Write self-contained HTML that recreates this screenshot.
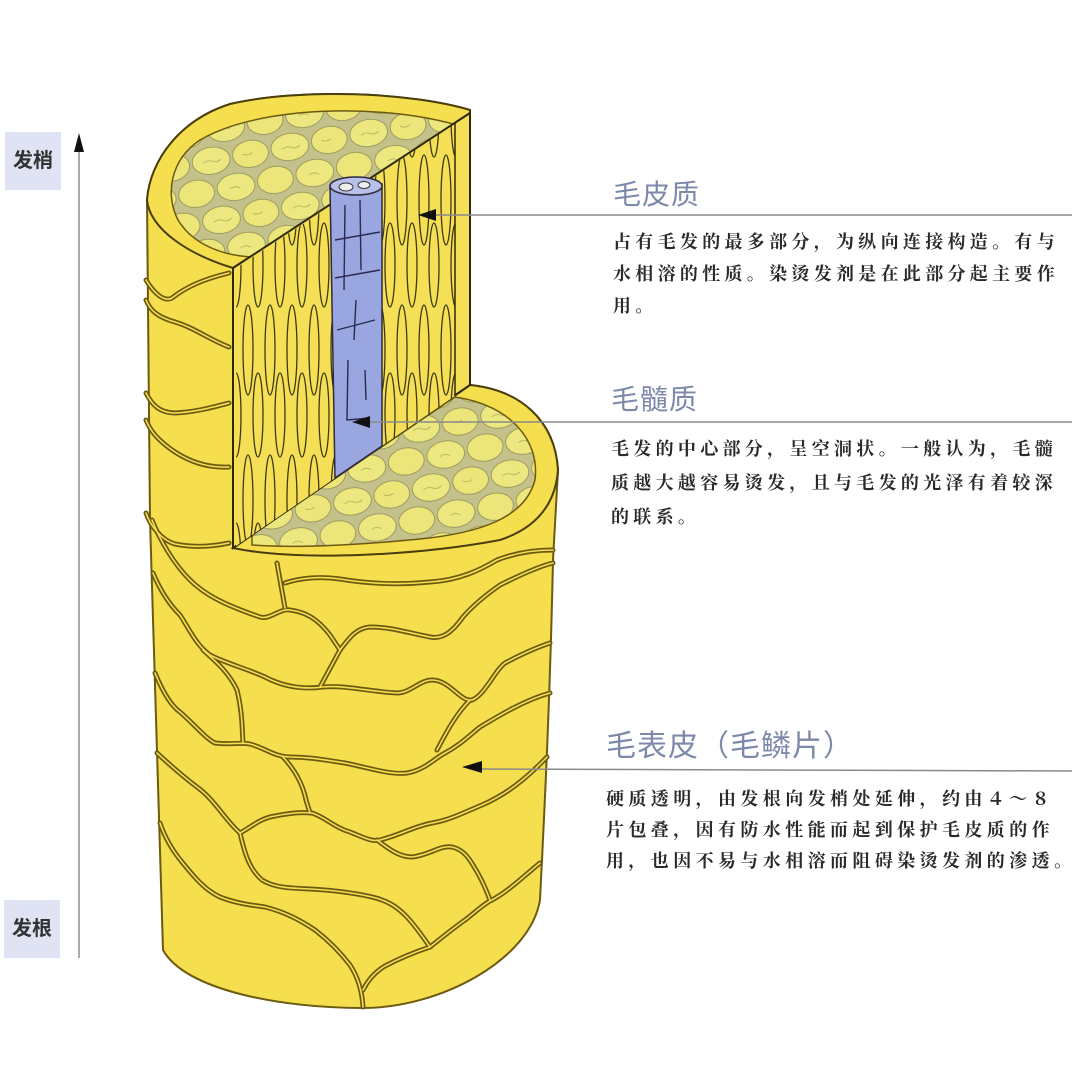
<!DOCTYPE html>
<html><head><meta charset="utf-8"><style>
html,body{margin:0;padding:0;background:#fff;}
body{width:1080px;height:1082px;position:relative;overflow:hidden;font-family:"Liberation Serif","Noto Serif CJK SC",serif;}
.t{position:absolute;color:#7d89aa;font-family:"Liberation Sans","Noto Sans CJK SC",sans-serif;font-size:28px;letter-spacing:1px;white-space:nowrap;}
.p{position:absolute;color:#2a2a2a;font-size:18px;font-weight:bold;letter-spacing:4.3px;line-height:32px;white-space:nowrap;}
.lb{position:absolute;background:#dfe3f3;color:#333;font-family:"Liberation Sans","Noto Sans CJK SC",sans-serif;font-weight:bold;font-size:20px;text-align:center;}
</style></head><body>
<svg width="1080" height="1082" style="position:absolute;left:0;top:0">
<defs>
<pattern id="cells" width="80" height="60" patternUnits="userSpaceOnUse" patternTransform="rotate(-10)">
<rect width="80" height="60" fill="#c4c28a"/>
<ellipse cx="20" cy="15" rx="19" ry="13.5" fill="#ece77e" stroke="#8f8c55" stroke-width="0.8"/>
<ellipse cx="60" cy="15" rx="18" ry="13.5" fill="#ebe57a" stroke="#8f8c55" stroke-width="0.8"/>
<ellipse cx="40" cy="45" rx="19" ry="13.5" fill="#ece77e" stroke="#8f8c55" stroke-width="0.8"/>
<ellipse cx="0" cy="45" rx="18" ry="13.5" fill="#ebe57a" stroke="#8f8c55" stroke-width="0.8"/>
<ellipse cx="80" cy="45" rx="18" ry="13.5" fill="#ebe57a" stroke="#8f8c55" stroke-width="0.8"/>
<path d="M12,16 q5,-3 10,0 q4,2 8,-1 M52,14 q5,3 10,0 M34,46 q5,-3 10,1" stroke="#b0ad60" stroke-width="0.8" fill="none"/>
</pattern>
<pattern id="fib" width="22" height="150" patternUnits="userSpaceOnUse">
<rect width="22" height="150" fill="#f4df56"/>
<ellipse cx="6" cy="50" rx="5" ry="45" fill="none" stroke="#3f3a10" stroke-width="1.3"/>
<ellipse cx="16" cy="115" rx="5" ry="42" fill="none" stroke="#3f3a10" stroke-width="1.3"/>
<ellipse cx="16" cy="-35" rx="5" ry="42" fill="none" stroke="#3f3a10" stroke-width="1.3"/>
</pattern>
<clipPath id="faceclip"><polygon points="236,268 455,124 455,396 236,546"/></clipPath>
</defs>

<line x1="79" y1="150" x2="79" y2="958" stroke="#aaa" stroke-width="2"/>
<polygon points="79,133 74,152 84,152" fill="#111"/>

<path d="M147,200 C150,160 180,120 230,104 C300,88 410,92 470,110 L470,385 C520,390 555,420 558,470 L553,560 C550,700 545,800 540,900 C530,960 440,1008 363,1008 C280,1008 185,990 163,950 L150,520 Z" fill="#f5df4f" stroke="#6b5a10" stroke-width="2"/>

<g id="sc" fill="none" stroke-linejoin="round" stroke-linecap="round">
<path d="M146,280 C155,295 165,302 172,298 C185,288 200,280 229,273"/>
<path d="M146,300 C150,310 157,317 175,322 C195,328 210,340 229,347"/>
<path d="M146,393 C152,405 160,413 175,413 C195,412 210,408 229,403"/>
<path d="M146,420 C150,430 157,440 175,452 C192,463 210,468 229,467"/>
<path d="M146,513 C150,525 161,540 175,544 C195,548 215,546 229,543"/>
<path d="M152,520 C160,540 173,563 190,580 C205,595 225,605 260,617 C270,620 280,608 290,610 C305,612 317,618 330,635 L340,650"/>
<path d="M277,563 L285,608"/>
<path d="M285,583 C300,578 320,576 340,579 C370,584 400,585 430,582 C460,580 480,570 497,560 C515,553 535,550 553,550"/>
<path d="M340,650 C348,640 355,628 370,627 C390,627 405,632 430,637 C445,640 455,628 463,617 C475,603 490,592 500,585 C520,575 540,566 553,563"/>
<path d="M153,573 C160,590 170,605 180,615 C190,630 196,645 210,655 C225,663 245,668 265,677 C280,685 300,690 323,687 C345,685 365,691 397,693 C410,693 420,680 432,680 C450,680 460,702 472,700 C485,695 495,670 505,663 C520,655 535,648 550,643"/>
<path d="M340,650 L320,687"/>
<path d="M203,650 C220,665 230,675 237,690 C242,710 242,725 243,743"/>
<path d="M155,673 C162,690 170,705 180,712 C195,725 205,738 215,743 C230,745 240,742 250,744 C265,748 275,757 290,757 C310,757 325,760 345,763 C370,768 390,775 407,773 C425,770 435,758 445,753 C460,745 470,735 480,727 C500,715 525,700 550,693"/>
<path d="M470,700 C455,715 445,735 437,750"/>
<path d="M157,753 C170,765 185,778 197,787 C215,800 225,820 240,833 C250,828 260,818 275,816 C290,813 300,812 312,813 C325,817 335,828 350,832 C365,838 372,842 380,840 C400,835 415,826 432,823 C450,820 465,812 482,805 C505,795 525,780 547,757"/>
<path d="M283,757 C295,770 303,785 306,800 L310,813"/>
<path d="M240,833 C244,850 248,868 262,880 C275,888 290,888 310,889 C330,890 350,892 372,897 C385,900 395,905 405,915 C415,925 425,940 430,947"/>
<path d="M377,840 C390,850 400,857 412,857 C430,855 440,845 452,847 C465,850 470,860 476,870 C482,880 487,892 490,900"/>
<path d="M160,823 C165,838 172,850 182,862 C195,878 205,890 220,897 C235,903 250,905 265,907 C285,912 300,920 315,930 C328,940 340,952 350,965 C358,977 362,990 363,1007"/>
<path d="M430,947 C445,935 455,927 465,920 C478,910 485,903 492,900 C510,890 525,875 540,863"/>
<path d="M363,990 C368,980 375,972 385,966 C400,958 415,952 430,947"/>
</g>
<use href="#sc" stroke="#6b5a10" stroke-width="5"/>
<use href="#sc" stroke="#f5df4f" stroke-width="1.6"/>

<path d="M233,268 C190,255 150,230 147,200 C150,160 180,120 230,104 C300,88 410,92 470,110 L470,113 Z" fill="#f5df4f" stroke="#4a3f0a" stroke-width="2"/>
<path d="M252,257 L453,124 C380,104 260,105 200,140 C170,160 165,195 178,220 C190,240 215,255 252,257 Z" fill="url(#cells)" stroke="#6b5a10" stroke-width="1.5"/>

<path d="M233,548 L470,385 C520,390 555,420 558,470 C555,510 530,530 500,540 C420,555 300,562 233,548 Z" fill="#f5df4f" stroke="#4a3f0a" stroke-width="2"/>
<path d="M252,535 L455,397 C510,405 540,440 535,480 C525,518 480,533 420,539 C350,546 290,548 252,545 Z" fill="url(#cells)" stroke="#6b5a10" stroke-width="1.5"/>

<polygon points="233,268 470,113 470,385 233,548" fill="#f4df56" stroke="#2e2a08" stroke-width="2"/>
<g clip-path="url(#faceclip)">
<rect x="236" y="100" width="220" height="460" fill="url(#fib)"/>
</g>
<line x1="455" y1="123" x2="455" y2="396" stroke="#2e2a08" stroke-width="1.5"/>
<path d="M330,186 L382,184 L382,446 L335,478 Z" fill="#9aa6e0" stroke="#2e2a40" stroke-width="1.5"/>
<ellipse cx="356" cy="186" rx="26" ry="9" fill="#b8c0ea" stroke="#2e2a40" stroke-width="1.5"/>
<ellipse cx="346" cy="187" rx="7" ry="4" fill="#eee" stroke="#333" stroke-width="1"/>
<ellipse cx="364" cy="185" rx="6" ry="3.5" fill="#eee" stroke="#333" stroke-width="1"/>
<g stroke="#2a2a50" stroke-width="1.4" fill="none">
<path d="M345,205 L344,290 M360,200 L361,270 M335,240 L380,232 M335,278 L380,270 M356,300 L354,340 M337,330 L375,320 M348,360 L347,420 L370,418 M365,370 L366,400"/>
</g>

<line x1="428" y1="215" x2="1072" y2="215" stroke="#8a8a8a" stroke-width="1.5"/>
<polygon points="418,215 436,209 436,221" fill="#111"/>
<line x1="362" y1="422" x2="1072" y2="422" stroke="#8a8a8a" stroke-width="1.5"/>
<polygon points="352,422 370,416 370,428" fill="#111"/>
<line x1="478" y1="769" x2="1072" y2="771" stroke="#8a8a8a" stroke-width="1.5"/>
<polygon points="462,767 482,761 482,773" fill="#111"/>
</svg>

<div class="lb" style="left:5px;top:132px;width:56px;height:58px;line-height:58px;">发梢</div>
<div class="lb" style="left:4px;top:900px;width:56px;height:58px;line-height:58px;">发根</div>

<div class="t" style="left:613px;top:173px;">毛皮质</div>
<div class="p" style="left:613px;top:226px;">占有毛发的最多部分，为纵向连接构造。有与<br>水相溶的性质。染烫发剂是在此部分起主要作<br>用。</div>

<div class="t" style="left:611px;top:378px;">毛髓质</div>
<div class="p" style="left:611px;top:432px;line-height:34px;">毛发的中心部分，呈空洞状。一般认为，毛髓<br>质越大越容易烫发，且与毛发的光泽有着较深<br>的联系。</div>

<div class="t" style="left:606px;top:721px;font-size:30px;">毛表皮（毛鳞片）</div>
<div class="p" style="left:606px;top:784px;line-height:31px;letter-spacing:4.4px;">硬质透明，由发根向发梢处延伸，约由４～８<br>片包叠，因有防水性能而起到保护毛皮质的作<br>用，也因不易与水相溶而阻碍染烫发剂的渗透。</div>
</body></html>
